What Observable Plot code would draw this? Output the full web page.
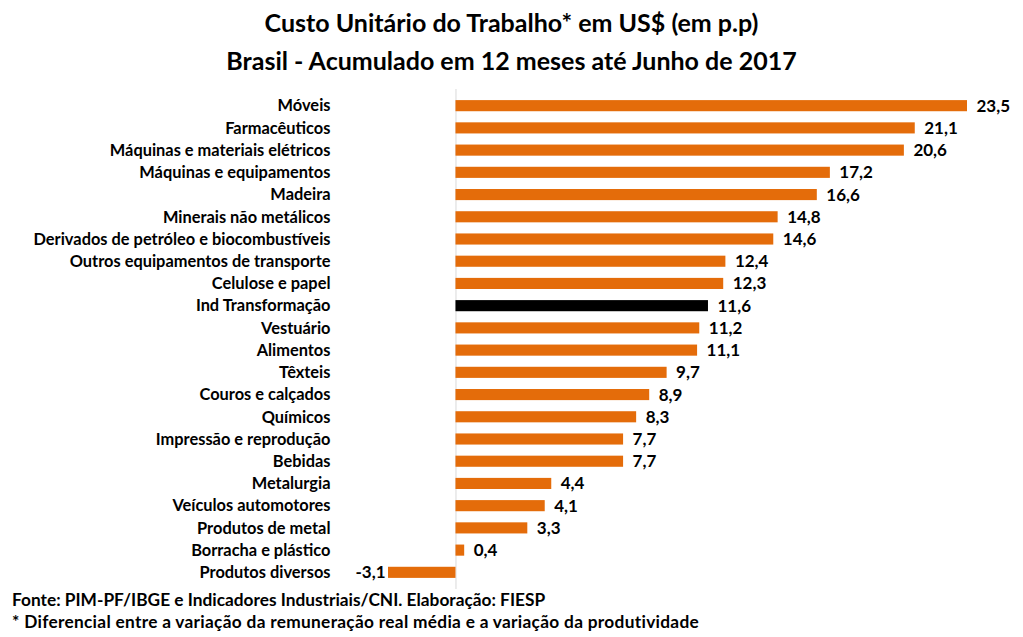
<!DOCTYPE html>
<html><head><meta charset="utf-8">
<script src="https://cdn.jsdelivr.net/npm/d3@7"></script>
<script src="https://cdn.jsdelivr.net/npm/@observablehq/plot@0.6"></script>
<style>
html,body{margin:0;padding:0;background:#fff;}
body{width:1023px;height:637px;overflow:hidden;font-family:Lato,"Open Sans",sans-serif;color:#000;}
#title{height:89px;text-align:center;font-weight:bold;font-size:25px;line-height:38px;padding-top:3px;box-sizing:border-box;}
#chart svg{display:block;}
#foot{padding-left:12px;font-weight:bold;font-size:17.3px;line-height:22px;white-space:nowrap;}
#foot .l2{letter-spacing:0.3px;}
</style></head>
<body>
<div id="title">Custo Unitário do Trabalho* em US$ (em p.p)<br>Brasil - Acumulado em 12 meses até Junho de 2017</div>
<div id="chart"></div>
<div id="foot"><div>Fonte: PIM-PF/IBGE e Indicadores Industriais/CNI. Elaboração: FIESP</div><div class="l2">* Diferencial entre a variação da remuneração real média e a variação da produtividade</div></div>
<script>
const categories = ["Móveis","Farmacêuticos","Máquinas e materiais elétricos","Máquinas e equipamentos","Madeira","Minerais não metálicos","Derivados de petróleo e biocombustíveis","Outros equipamentos de transporte","Celulose e papel","Ind Transformação","Vestuário","Alimentos","Têxteis","Couros e calçados","Químicos","Impressão e reprodução","Bebidas","Metalurgia","Veículos automotores","Produtos de metal","Borracha e plástico","Produtos diversos"];
const values = [23.5,21.1,20.6,17.2,16.6,14.8,14.6,12.4,12.3,11.6,11.2,11.1,9.7,8.9,8.3,7.7,7.7,4.4,4.1,3.3,0.4,-3.1];
const highlight = "Ind Transformação";

const data = categories.map((c,i)=>({cat:c, v:values[i]}));
const fmt = v => v.toFixed(1).replace(".", ",");

const chart = Plot.plot({
  width: 1023, height: 500,
  marginLeft: 388, marginRight: 56, marginTop: 0, marginBottom: 0,
  style: {fontFamily: "Lato, 'Open Sans', sans-serif", background: "#fff"},
  x: {domain: d3.extent(values), axis: null},
  y: {domain: categories, padding: 0.5, round: false, label: null},
  marks: [
    Plot.ruleX([0], {stroke: "#d9d9d9", strokeWidth: 1}),
    Plot.barX(data, {x: "v", y: "cat", fill: d => d.cat === highlight ? "#000000" : "#E46C0A"}),
    Plot.axisY({tickSize: 0, tickPadding: 58, fontSize: 16.4, fontWeight: "bold", fill: "#000", label: null}),
    Plot.text(data.filter(d=>d.v>=0), {x: "v", y: "cat", text: d=>fmt(d.v), dx: 9, textAnchor: "start", fontSize: 17, fontWeight: "bold", fill: "#000"}),
    Plot.text(data.filter(d=>d.v<0), {x: "v", y: "cat", text: d=>fmt(d.v), dx: -3, textAnchor: "end", fontSize: 17, fontWeight: "bold", fill: "#000"})
  ]
});
document.getElementById("chart").appendChild(chart);
</script>
</body></html>
